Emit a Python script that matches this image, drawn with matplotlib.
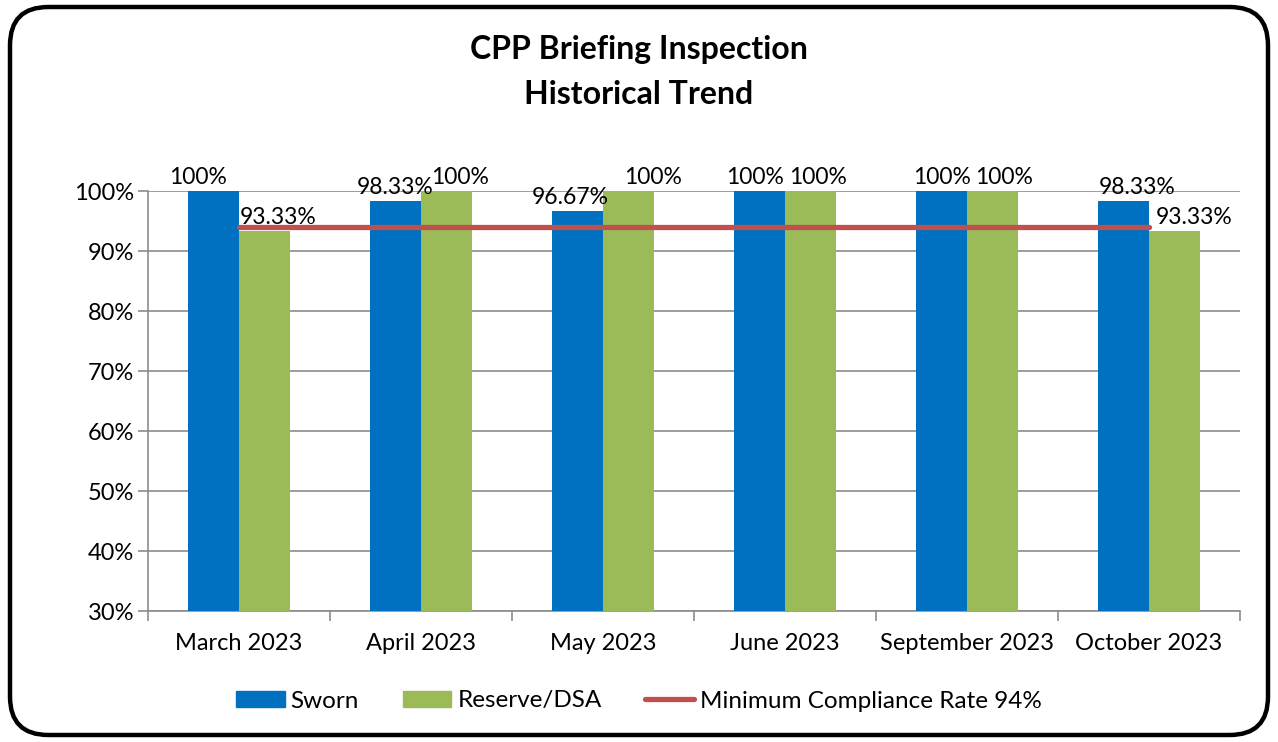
import matplotlib
matplotlib.use("Agg")
import matplotlib.pyplot as plt
from matplotlib.patches import FancyBboxPatch, Patch
from matplotlib.lines import Line2D
import numpy as np

plt.rcParams['font.family'] = ['Lato', 'DejaVu Sans']

months = ["March 2023", "April 2023", "May 2023", "June 2023", "September 2023", "October 2023"]
sworn = [100, 98.33, 96.67, 100, 100, 98.33]
reserve = [93.33, 100, 100, 100, 100, 93.33]
sworn_labels = ["100%", "98.33%", "96.67%", "100%", "100%", "98.33%"]
reserve_labels = ["93.33%", "100%", "100%", "100%", "100%", "93.33%"]
min_rate = 94
yticks = [30, 40, 50, 60, 70, 80, 90, 100]

c_sworn = "#0070C0"
c_res = "#9BBB59"
c_line = "#C0504D"

fig = plt.figure(figsize=(12.78, 7.42), dpi=100)
ax = fig.add_axes([148/1278, 131/742, (1240-148)/1278, (611-191)/742])

x = np.arange(len(months))
w = 0.28
ax.bar(x - w/2, sworn, w, color=c_sworn, zorder=3)
ax.bar(x + w/2, reserve, w, color=c_res, zorder=3)
ax.plot(x, [min_rate]*len(x), color=c_line, lw=3.8, solid_capstyle='round', zorder=4)

sworn_dx = [-15, 0, -7, -4, 1, 14]
res_dx = [14, 14, 25, 8, 12, 20]
for i in range(len(x)):
    ax.annotate(sworn_labels[i], (x[i] - w/2, sworn[i]), xytext=(sworn_dx[i]*0.72, 2),
                textcoords='offset points', ha='center', va='bottom', fontsize=16.5,
                zorder=5, annotation_clip=False)
    ax.annotate(reserve_labels[i], (x[i] + w/2, reserve[i]), xytext=(res_dx[i]*0.72, 2),
                textcoords='offset points', ha='center', va='bottom', fontsize=16.5,
                zorder=5, annotation_clip=False)

ax.set_xlim(-0.5, len(x) - 0.5)
ax.set_ylim(30, 100)
ax.set_yticks(yticks)
ax.set_yticklabels([f"{v}%" for v in yticks], fontsize=17)
ax.yaxis.grid(True, color="#8C8C8C", lw=1.2, zorder=0)
ax.set_axisbelow(True)

ax.set_xticks(np.arange(-0.5, len(x), 1.0))
ax.set_xticklabels([])
ax.set_xticks(x, minor=True)
ax.set_xticklabels(months, minor=True, fontsize=17)
ax.tick_params(axis='x', which='major', length=7, color="#8C8C8C", width=1.2)
ax.tick_params(axis='x', which='minor', length=0, pad=16)
ax.tick_params(axis='y', length=7, color="#8C8C8C", width=1.2, pad=3)

for s in ['top', 'right']:
    ax.spines[s].set_visible(False)
for s in ['left', 'bottom']:
    ax.spines[s].set_color("#8C8C8C")
    ax.spines[s].set_linewidth(1.2)

fig.text(0.5, 1 - 50/742, "CPP Briefing Inspection", ha='center', va='center',
         fontsize=23, fontweight='bold')
fig.text(0.5, 1 - 95/742, "Historical Trend", ha='center', va='center',
         fontsize=23, fontweight='bold')

handles = [Patch(color=c_sworn), Patch(color=c_res),
           Line2D([0], [0], color=c_line, lw=3.8, solid_capstyle='round')]
fig.legend(handles, ["Sworn", "Reserve/DSA", "Minimum Compliance Rate 94%"],
           loc='center', bbox_to_anchor=(0.5, 1 - 701/742), ncol=3, frameon=False,
           fontsize=17.5, handlelength=2.0, handleheight=0.6, handletextpad=0.25,
           columnspacing=1.8)

border = FancyBboxPatch((10/1278, 7/742), 1258/1278, 728/742,
                        boxstyle="round,pad=0,rounding_size=0.03",
                        transform=fig.transFigure, fill=False, ec='black', lw=3.2,
                        mutation_aspect=1278/742)
fig.patches.append(border)

fig.savefig("out.png", dpi=100)
